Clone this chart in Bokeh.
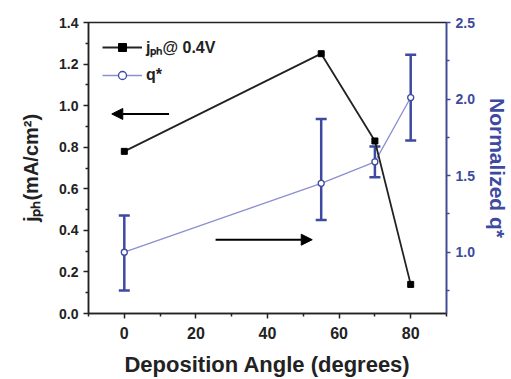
import math
from bokeh.plotting import figure
from bokeh.models import (LinearAxis, Range1d, FixedTicker, Whisker, ColumnDataSource,
                          Arrow, NormalHead, Legend, LegendItem, PrintfTickFormatter)
from bokeh.embed import file_html
from bokeh.resources import INLINE

# ---- data ----
angle = [0, 55, 70, 80]
jph = [0.78, 1.25, 0.83, 0.14]
q_norm = [1.0, 1.45, 1.59, 2.01]
q_err_up = [0.24, 0.42, 0.10, 0.28]
q_err_dn = [0.25, 0.24, 0.10, 0.28]

x_ticks = [0, 20, 40, 60, 80]
x_minor = [-10, 10, 30, 50, 70, 90]
left_ticks = [0.0, 0.2, 0.4, 0.6, 0.8, 1.0, 1.2, 1.4]
left_minor = [0.1, 0.3, 0.5, 0.7, 0.9, 1.1, 1.3]
right_ticks = [1.0, 1.5, 2.0, 2.5]
right_minor = [0.75, 1.25, 1.75, 2.25]

FONT = "Liberation Sans"
DARK = "#222222"
BLUE = "#3d4aa0"
QLINE = "#8a8fd0"

p = figure(width=511, height=379, output_backend="svg", toolbar_location=None,
           x_range=Range1d(-10, 90), y_range=Range1d(0, 1.4),
           min_border_left=88, min_border_right=62, min_border_top=22, min_border_bottom=64)
p.extra_y_ranges = {"right": Range1d(0.6, 2.5)}
p.grid.visible = False
p.outline_line_color = DARK
p.outline_line_width = 1.5
p.background_fill_color = "white"
p.border_fill_color = "white"

# bottom axis
xa = p.xaxis[0]
xa.ticker = FixedTicker(ticks=x_ticks, minor_ticks=x_minor)
xa.axis_label = "Deposition Angle (degrees)"
# left axis
ya = p.yaxis[0]
ya.ticker = FixedTicker(ticks=left_ticks, minor_ticks=left_minor)
ya.formatter = PrintfTickFormatter(format="%.1f")
ya.axis_label = "j\u209a\u2095(mA/cm\u00b2)"

for ax in (xa, ya):
    ax.axis_line_color = DARK
    ax.axis_line_width = 1.5
    ax.major_tick_line_color = DARK
    ax.minor_tick_line_color = DARK
    ax.major_tick_line_width = 1.5
    ax.minor_tick_line_width = 1.5
    ax.major_tick_in = 0
    ax.major_tick_out = 5
    ax.minor_tick_in = 0
    ax.minor_tick_out = 3
    ax.major_label_text_font = FONT
    ax.major_label_text_font_style = "bold"
    ax.major_label_text_font_size = "14px"
    ax.major_label_text_color = DARK
    ax.axis_label_text_font = FONT
    ax.axis_label_text_font_style = "bold"
    ax.axis_label_text_font_size = "20px"
    ax.axis_label_text_color = DARK
    ax.axis_label_standoff = 10
xa.major_label_text_font_size = "16px"
xa.major_label_standoff = 8
xa.axis_label_text_font_size = "22px"
xa.axis_label_standoff = 10
ya.axis_label_standoff = 14

# right axis
ra = LinearAxis(y_range_name="right", ticker=FixedTicker(ticks=right_ticks, minor_ticks=right_minor))
ra.formatter = PrintfTickFormatter(format="%.1f")
ra.axis_line_color = BLUE
ra.axis_line_width = 1.5
ra.major_tick_line_color = BLUE
ra.minor_tick_line_color = BLUE
ra.major_tick_line_width = 1.5
ra.minor_tick_line_width = 1.5
ra.major_tick_in = 0
ra.major_tick_out = 4
ra.minor_tick_in = 0
ra.minor_tick_out = 3
ra.major_label_text_font = FONT
ra.major_label_text_font_style = "bold"
ra.major_label_text_font_size = "14px"
ra.major_label_text_color = BLUE
ra.axis_label = "Normalized q*"
ra.axis_label_orientation = "vertical"
ra.axis_label_text_font = FONT
ra.axis_label_text_font_style = "bold"
ra.axis_label_text_font_size = "21px"
ra.axis_label_text_color = BLUE
ra.axis_label_standoff = 8
p.add_layout(ra, "right")

# data
src_j = ColumnDataSource(dict(x=angle, y=jph))
lower = [v - d for v, d in zip(q_norm, q_err_dn)]
upper = [v + u for v, u in zip(q_norm, q_err_up)]
src_q = ColumnDataSource(dict(x=angle, y=q_norm, lower=lower, upper=upper))

lq = p.line("x", "y", source=src_q, y_range_name="right", line_color=QLINE, line_width=1.3)
wk = Whisker(base="x", upper="upper", lower="lower", source=src_q, y_range_name="right",
             line_color=BLUE, line_width=2.5)
wk.upper_head.size = 11
wk.lower_head.size = 11
wk.upper_head.line_color = BLUE
wk.lower_head.line_color = BLUE
wk.upper_head.line_width = 2.5
wk.lower_head.line_width = 2.5
p.add_layout(wk)
sq_ = p.scatter("x", "y", source=src_q, y_range_name="right", marker="circle", size=6,
                fill_color="white", line_color=BLUE, line_width=1.3)

lj = p.line("x", "y", source=src_j, line_color=DARK, line_width=1.8)
sj = p.scatter("x", "y", source=src_j, marker="square", size=6, fill_color="black", line_color="black")

# arrows
p.add_layout(Arrow(end=NormalHead(size=11, fill_color="black", line_color="black"),
                   x_start=12.5, y_start=0.96, x_end=-3.5, y_end=0.96,
                   line_color="black", line_width=2))
p.add_layout(Arrow(end=NormalHead(size=11, fill_color="black", line_color="black"),
                   x_start=25.5, y_start=0.355, x_end=52.5, y_end=0.355,
                   line_color="black", line_width=2))

legend = Legend(items=[LegendItem(label="j\u209a\u2095@ 0.4V", renderers=[lj, sj]),
                       LegendItem(label="q*", renderers=[lq, sq_])],
                location="top_left", margin=14, padding=0, spacing=7,
                glyph_width=40, glyph_height=20, label_standoff=4,
                border_line_color=None, background_fill_alpha=0,
                label_text_font=FONT, label_text_font_style="bold",
                label_text_font_size="16px", label_text_color=DARK)
p.add_layout(legend)

open("out.html", "w").write(file_html(p, INLINE))
